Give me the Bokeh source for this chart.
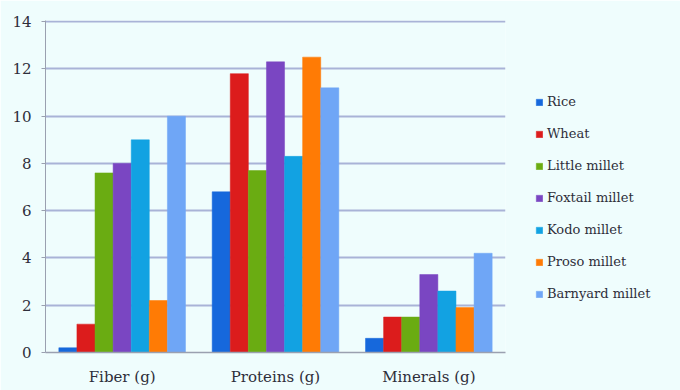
from bokeh.plotting import figure
from bokeh.models import (FactorRange, Range1d, FixedTicker, Legend,
                          LegendItem, ColumnDataSource)
from bokeh.transform import dodge
from bokeh.embed import file_html
from bokeh.resources import INLINE

categories = ["Fiber (g)", "Proteins (g)", "Minerals (g)"]
series = ["Rice", "Wheat", "Little millet", "Foxtail millet", "Kodo millet",
          "Proso millet", "Barnyard millet"]
rice = [0.2, 6.8, 0.6]
wheat = [1.2, 11.8, 1.5]
little_millet = [7.6, 7.7, 1.5]
foxtail_millet = [8.0, 12.3, 3.3]
kodo_millet = [9.0, 8.3, 2.6]
proso_millet = [2.2, 12.5, 1.9]
barnyard_millet = [10.0, 11.2, 4.2]
y_ticks = [0, 2, 4, 6, 8, 10, 12, 14]

values = [rice, wheat, little_millet, foxtail_millet, kodo_millet,
          proso_millet, barnyard_millet]
colors = ["#1668dc", "#dc1c1c", "#6aac12", "#7a46c2", "#12a2e2",
          "#ff7b05", "#6fa6f6"]

BG = "#effdfd"
FONT = "DejaVu Serif"
TEXT = "#2e2e3a"

data = {"cat": categories}
keys = []
for i, vals in enumerate(values):
    k = "s%d" % i
    keys.append(k)
    data[k] = vals
src = ColumnDataSource(data)

p = figure(frame_width=460, frame_height=332,
           x_range=FactorRange(*categories, range_padding=0),
           y_range=Range1d(0, 14.05), output_backend="svg", toolbar_location=None,
           min_border_left=45, min_border_right=175,
           min_border_top=20, min_border_bottom=38)
p.background_fill_color = BG
p.border_fill_color = BG
p.outline_line_color = None

bw = 0.118
items = []
for i, k in enumerate(keys):
    r = p.vbar(x=dodge("cat", (i - 3) * bw, range=p.x_range), top=k, width=bw,
               source=src, fill_color=colors[i], line_color=colors[i], line_width=0.5)
    items.append(LegendItem(label=series[i], renderers=[r]))

# y axis
ya = p.yaxis[0]
ya.ticker = FixedTicker(ticks=y_ticks)
ya.axis_line_color = "#9aa0b0"
ya.major_tick_line_color = "#9aa0b0"
ya.major_tick_out = 4
ya.major_tick_in = 0
ya.minor_tick_line_color = None
ya.major_label_text_font = FONT
ya.major_label_text_font_size = "15px"
ya.major_label_text_color = TEXT
ya.major_label_standoff = 10

p.ygrid.ticker = FixedTicker(ticks=y_ticks)
p.ygrid.grid_line_color = "#a9b3d7"
p.ygrid.grid_line_width = 2
p.xgrid.grid_line_color = None

xa = p.xaxis[0]
xa.axis_line_color = "#9aa0b0"
xa.axis_line_width = 1.5
xa.major_tick_line_color = None
xa.minor_tick_line_color = None
xa.major_label_text_font = FONT
xa.major_label_text_font_size = "15px"
xa.major_label_text_color = TEXT
xa.major_label_standoff = 9

legend = Legend(items=items, location="top_left", orientation="vertical")
legend.background_fill_alpha = 0
legend.border_line_color = None
legend.padding = 0
legend.margin = 30
legend.spacing = 17
legend.glyph_width = 8
legend.glyph_height = 8
legend.label_height = 8
legend.label_standoff = 4
legend.label_text_font = FONT
legend.label_text_font_size = "13px"
legend.label_text_color = TEXT
# blank title used only to push the entries down to the reference's height
legend.title = " "
legend.title_text_font_size = "13px"
legend.title_standoff = 29
p.add_layout(legend, "right")

open("out.html", "w").write(file_html(p, INLINE))
